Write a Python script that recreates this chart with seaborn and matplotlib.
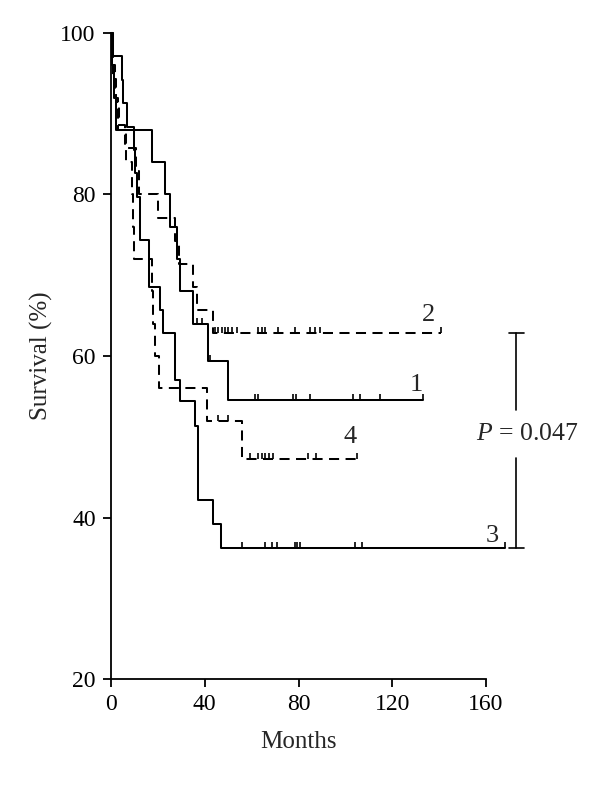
import numpy as np
import pandas as pd
import seaborn as sns
import matplotlib.pyplot as plt

# step curves (months, survival %)
t1 = [0, 0.5, 1.2, 2.1, 17.4, 23.0, 25.2, 28.0, 29.4, 34.8, 41.5, 50.0]
s1 = [100, 96, 92, 88, 84, 80, 76, 72, 68, 64, 59.4, 54.5]
end1 = 133.2
cens1 = [36.6, 38.7, 42.2, 61.4, 62.8, 77.8, 78.9, 84.9, 103.4, 106.2, 114.8, 133.2]

t2 = [0, 0.5, 1.0, 2.0, 3.5, 6.0, 10.5, 12.0, 20.2, 27.3, 29.0, 35.0, 36.6, 43.5]
s2 = [100, 97.1, 94.3, 91.4, 88.6, 85.7, 82.9, 80.0, 77.1, 74.3, 71.4, 68.6, 65.7, 62.9]
end2 = 141.0
cens2 = [44.4, 45.8, 47.2, 48.6, 50.0, 51.5, 53.6, 62.8, 64.3, 65.7, 71.2, 78.5,
         84.9, 87.0, 89.2, 141.0]

t3 = [0, 1.0, 4.6, 5.3, 6.7, 9.6, 10.3, 11.0, 12.4, 16.1, 20.7, 22.3, 27.3, 29.4,
      35.8, 37.0, 43.6, 46.8]
s3 = [100, 97.1, 94.2, 91.3, 88.4, 85.5, 82.6, 79.7, 74.4, 68.6, 65.7, 62.9, 57.0,
      54.4, 51.3, 42.2, 39.2, 36.2]
end3 = 168.0
cens3 = [55.8, 65.7, 68.6, 70.7, 78.5, 79.2, 80.6, 104.0, 107.0, 168.0]

t4 = [0, 0.8, 1.5, 3.0, 6.3, 8.8, 9.2, 9.6, 17.5, 18.0, 18.6, 20.6, 40.8, 55.7]
s4 = [100, 96, 92, 88, 84, 80, 76, 72, 68, 64, 60, 56, 52, 47.3]
end4 = 104.8
cens4 = [45.8, 50.0, 59.5, 62.8, 64.3, 65.7, 67.5, 69.0, 84.0, 87.5, 104.8]

labels = ["1", "2", "3", "4"]
label_pos = [(130.4, 56.4), (135.4, 65.1), (162.5, 37.7), (102.0, 50.0)]

p_text = "$P$ = 0.047"
p_top, p_bottom = 62.9, 36.2

sns.set_style("ticks")
plt.rcParams['font.family'] = ['Liberation Serif', 'DejaVu Serif']
plt.rcParams['mathtext.fontset'] = 'custom'
plt.rcParams['mathtext.it'] = 'Liberation Serif:italic'
plt.rcParams['mathtext.rm'] = 'Liberation Serif'

fig = plt.figure(figsize=(6, 7.85), dpi=100)
ax = fig.add_axes([0.185, 0.135, 0.625, 0.823])

dash = (0, (5, 3.2))
curves = [(t1, s1, end1, cens1, '-'), (t2, s2, end2, cens2, dash),
          (t3, s3, end3, cens3, '-'), (t4, s4, end4, cens4, dash)]

tick_marker = [(0, 0), (0, 1)]
for t, s, end, cens, ls in curves:
    df = pd.DataFrame({"Months": t + [end], "Survival": s + [s[-1]]})
    sns.lineplot(x="Months", y="Survival", data=df, drawstyle='steps-post',
                 estimator=None, sort=False, color='black', linewidth=1.45,
                 linestyle=ls, ax=ax)
    # censored cases as small upward ticks
    idx = np.searchsorted(t, cens, side='right') - 1
    cs = np.array(s)[idx]
    ax.plot(cens, cs, linestyle='none', marker=tick_marker, markersize=9,
            markeredgewidth=1.2, color='black', clip_on=False)

for line in ax.lines:
    line.set_clip_on(False)

for lab, (x, y) in zip(labels, label_pos):
    ax.text(x, y, lab, fontsize=19, ha='center', va='center')

# p-value bracket
bx = 172.8
ax.plot([bx, bx], [p_top, 53.3], color='black', lw=1.2, clip_on=False)
ax.plot([bx, bx], [47.4, p_bottom], color='black', lw=1.2, clip_on=False)
ax.plot([bx - 3.2, bx + 3.2], [p_top, p_top], color='black', lw=1.2, clip_on=False)
ax.plot([bx - 3.2, bx + 3.2], [p_bottom, p_bottom], color='black', lw=1.2, clip_on=False)
ax.text(177.5, 50.3, p_text, fontsize=18.5, ha='center', va='center', clip_on=False)

ax.set_xlim(0, 160)
ax.set_ylim(20, 100)
ax.set_xticks([0, 40, 80, 120, 160])
ax.set_yticks([20, 40, 60, 80, 100])
ax.set_xlabel("Months", fontsize=18)
ax.set_ylabel("Survival (%)", fontsize=18)
ax.xaxis.set_label_coords(0.5, -0.08)
ax.yaxis.set_label_coords(-0.155, 0.5)
ax.tick_params(axis='both', labelsize=17, length=6, width=1.3, color='black',
               labelcolor='black', pad=5)
for sp in ['left', 'bottom']:
    ax.spines[sp].set_linewidth(1.3)
    ax.spines[sp].set_color('black')
sns.despine(ax=ax)

plt.savefig("out.png", dpi=100)
